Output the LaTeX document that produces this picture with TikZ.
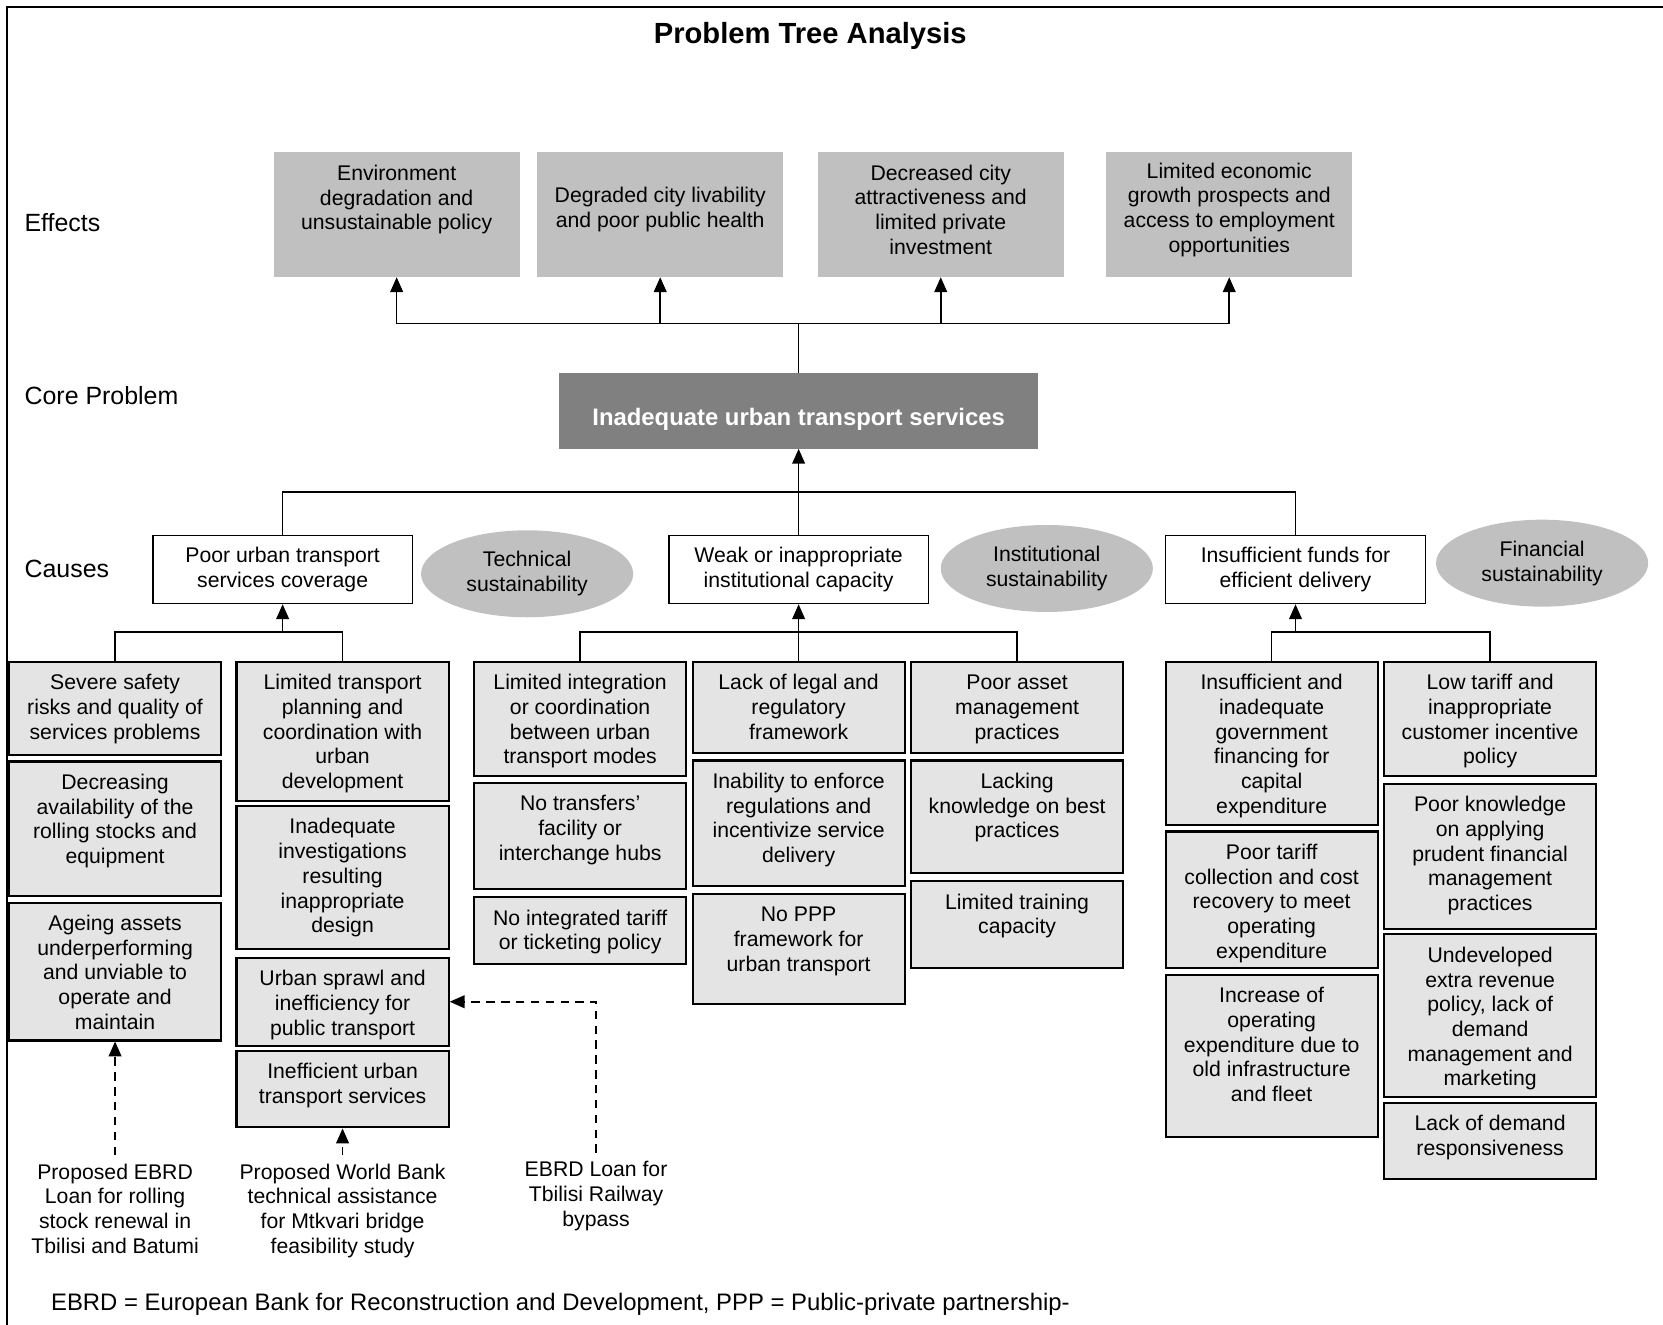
\documentclass[tikz,border=0pt]{standalone}
\usepackage{fontspec}
\setmainfont{Liberation Sans}
\usetikzlibrary{arrows.meta,shapes.geometric}
\definecolor{effgray}{HTML}{C0C0C0}
\definecolor{coregray}{HTML}{808080}
\definecolor{boxgray}{HTML}{E4E4E4}
\newcommand{\lbx}[2]{\parbox[c][#1][t]{200pt}{\centering\vspace*{10pt}\strut #2}}
\newcommand{\ebx}[1]{\parbox[c][118pt][c]{232pt}{\centering #1\par\vspace*{9pt}}}
\tikzset{
  conn/.style={line width=1.5pt},
  arr/.style={conn,-{Triangle[length=14pt,width=12pt]}},
  darr/.style={conn,dash pattern=on 8pt off 6pt,-{Triangle[length=14pt,width=12pt]}},
  effbox/.style={fill=effgray,inner sep=0pt,anchor=north},
  corebox/.style={fill=coregray,text=white,font=\fontsize{22.5}{27}\selectfont\bfseries,minimum width=452pt,minimum height=71pt,inner sep=0pt,text height=27pt,text depth=0pt},
  causebox/.style={draw,line width=1.5pt,fill=white,minimum width=245pt,minimum height=64pt,align=center,inner sep=0pt},
  sust/.style={ellipse,fill=effgray,minimum width=200pt,minimum height=82pt,align=center,inner sep=0pt},
  lvl/.style={draw,line width=2pt,fill=boxgray,inner sep=0pt,anchor=north},
  proj/.style={align=center,inner sep=8pt,anchor=north},
  sidelab/.style={anchor=base west,inner sep=0pt,font=\fontsize{23.5}{28}\selectfont},
}
\begin{document}
\begin{tikzpicture}[x=1pt,y=1pt,font=\fontsize{20}{23.3}\selectfont]
\useasboundingbox (0,0) rectangle (1568,-1249);
% frame
\draw[line width=2pt] (6.6,-1249) -- (6.6,-6.6) -- (1568,-6.6);
% title
\node[anchor=base,inner sep=0pt,font=\fontsize{27.5}{33}\selectfont\bfseries] (title) at (764,-41) {Problem Tree Analysis};
% side labels
\node[sidelab] (labEff) at (23,-218.4) {Effects};
\node[sidelab] (labCore) at (23,-381.4) {Core Problem};
\node[sidelab] (labCause) at (23,-544.4) {Causes};
% effects
\node[effbox] (eff1) at (374,-143) {\ebx{Environment\\degradation and\\unsustainable policy\\\mbox{}}};
\node[effbox] (eff2) at (622.5,-143) {\ebx{Degraded city livability\\and poor public health}};
\node[effbox] (eff3) at (887,-143) {\ebx{Decreased city\\attractiveness and\\limited private\\investment}};
\node[effbox] (eff4) at (1159,-143) {\ebx{Limited economic\\growth prospects and\\access to employment\\opportunities}};
% core
\node[corebox] (core) at (753,-387.5) {Inadequate urban transport services};
% causes
\node[causebox] (cause1) at (266.5,-537) {Poor urban transport\\services coverage};
\node[causebox] (cause2) at (753,-537) {Weak or inappropriate\\institutional capacity};
\node[causebox] (cause3) at (1221.5,-537) {Insufficient funds for\\efficient delivery};
% sustainability ellipses
\node[sust] (sus1) at (497,-541) {Technical\\sustainability};
\node[sust] (sus2) at (987,-536) {Institutional\\sustainability};
\node[sust] (sus3) at (1454,-531) {Financial\\sustainability};
% level 3 column A
\node[lvl] (la1) at (108.5,-623) {\lbx{88pt}{Severe safety\\risks and quality of\\services problems}};
\node[lvl] (la2) at (108.5,-717) {\lbx{127pt}{Decreasing\\availability of the\\rolling stocks and\\equipment}};
\node[lvl] (la3) at (108.5,-850) {\lbx{130pt}{Ageing assets\\underperforming\\and unviable to\\operate and\\maintain}};
% column B
\node[lvl] (lb1) at (323,-623) {\lbx{131pt}{Limited transport\\planning and\\coordination with\\urban\\development}};
\node[lvl] (lb2) at (323,-759) {\lbx{135pt}{Inadequate\\investigations\\resulting\\inappropriate\\design}};
\node[lvl] (lb3) at (323,-902) {\lbx{83pt}{Urban sprawl and\\inefficiency for\\public transport}};
\node[lvl] (lb4) at (323,-990) {\lbx{72pt}{Inefficient urban\\transport services}};
% column C
\node[lvl] (lc1) at (547,-623) {\lbx{108pt}{Limited integration\\or coordination\\between urban\\transport modes}};
\node[lvl] (lc2) at (547,-737) {\lbx{100pt}{No transfers'\\facility or\\interchange hubs}};
\node[lvl] (lc3) at (547,-845) {\lbx{63pt}{No integrated tariff\\or ticketing policy}};
% column D
\node[lvl] (ld1) at (753,-623) {\lbx{86pt}{Lack of legal and\\regulatory\\framework}};
\node[lvl] (ld2) at (753,-716) {\lbx{118pt}{Inability to enforce\\regulations and\\incentivize service\\delivery}};
\node[lvl] (ld3) at (753,-842) {\lbx{104pt}{No PPP\\framework for\\urban transport}};
% column E
\node[lvl] (le1) at (959,-623) {\lbx{86pt}{Poor asset\\management\\practices}};
\node[lvl] (le2) at (959,-716) {\lbx{106pt}{Lacking\\knowledge on best\\practices}};
\node[lvl] (le3) at (959,-830) {\lbx{82pt}{Limited training\\capacity}};
% column F
\node[lvl] (lf1) at (1199,-623) {\lbx{154pt}{Insufficient and\\inadequate\\government\\financing for\\capital\\expenditure}};
\node[lvl] (lf2) at (1199,-783) {\lbx{129pt}{Poor tariff\\collection and cost\\recovery to meet\\operating\\expenditure}};
\node[lvl] (lf3) at (1199,-918) {\lbx{153pt}{Increase of\\operating\\expenditure due to\\old infrastructure\\and fleet}};
% column G
\node[lvl] (lg1) at (1405,-623) {\lbx{108pt}{Low tariff and\\inappropriate\\customer incentive\\policy}};
\node[lvl] (lg2) at (1405,-738) {\lbx{137pt}{Poor knowledge\\on applying\\prudent financial\\management\\practices}};
\node[lvl] (lg3) at (1405,-880) {\lbx{153pt}{Undeveloped\\extra revenue\\policy, lack of\\demand\\management and\\marketing}};
\node[lvl] (lg4) at (1405,-1039) {\lbx{72pt}{Lack of demand\\responsiveness}};
% projects
\node[proj] (p1) at (108.5,-1089) {Proposed EBRD\\Loan for rolling\\stock renewal in\\Tbilisi and Batumi};
\node[proj] (p2) at (323,-1089) {Proposed World Bank\\technical assistance\\for Mtkvari bridge\\feasibility study};
\node[proj] (p3) at (562,-1087) {EBRD Loan for\\Tbilisi Railway\\bypass};
% footnote
\node[anchor=base west,inner sep=0pt,font=\fontsize{22.5}{27}\selectfont] (fn) at (48,-1236) {EBRD = European Bank for Reconstruction and Development, PPP = Public-private partnership-};
% connectors: core to effects
\coordinate (jE) at (753,-305);
\draw[conn] (core.north) -- (jE);
\draw[arr] (jE) -| (eff1.south);
\draw[arr] (jE) -| (eff2.south);
\draw[arr] (jE) -| (eff3.south);
\draw[arr] (jE) -| (eff4.south);
% causes to core
\coordinate (jC) at (753,-464);
\draw[arr] (cause2.north) -- (core.south);
\draw[conn] (cause1.north) |- (jC);
\draw[conn] (cause3.north) |- (jC);
% level 3 to causes
\coordinate (jA) at (266.5,-596);
\draw[arr] (jA) -- (cause1.south);
\draw[conn] (la1.north) |- (jA);
\draw[conn] (lb1.north) |- (jA);
\coordinate (jB) at (753,-596);
\draw[arr] (ld1.north) -- (cause2.south);
\draw[conn] (lc1.north) |- (jB);
\draw[conn] (le1.north) |- (jB);
\coordinate (jF) at (1221.5,-596);
\draw[arr] (jF) -- (cause3.south);
\draw[conn] (lf1.north) |- (jF);
\draw[conn] (lg1.north) |- (jF);
% projects
\draw[darr] (p1.north) -- (la3.south);
\draw[darr] (p2.north) -- (lb4.south);
\draw[darr] (p3.north) |- (lb3.east);
\end{tikzpicture}
\end{document}
